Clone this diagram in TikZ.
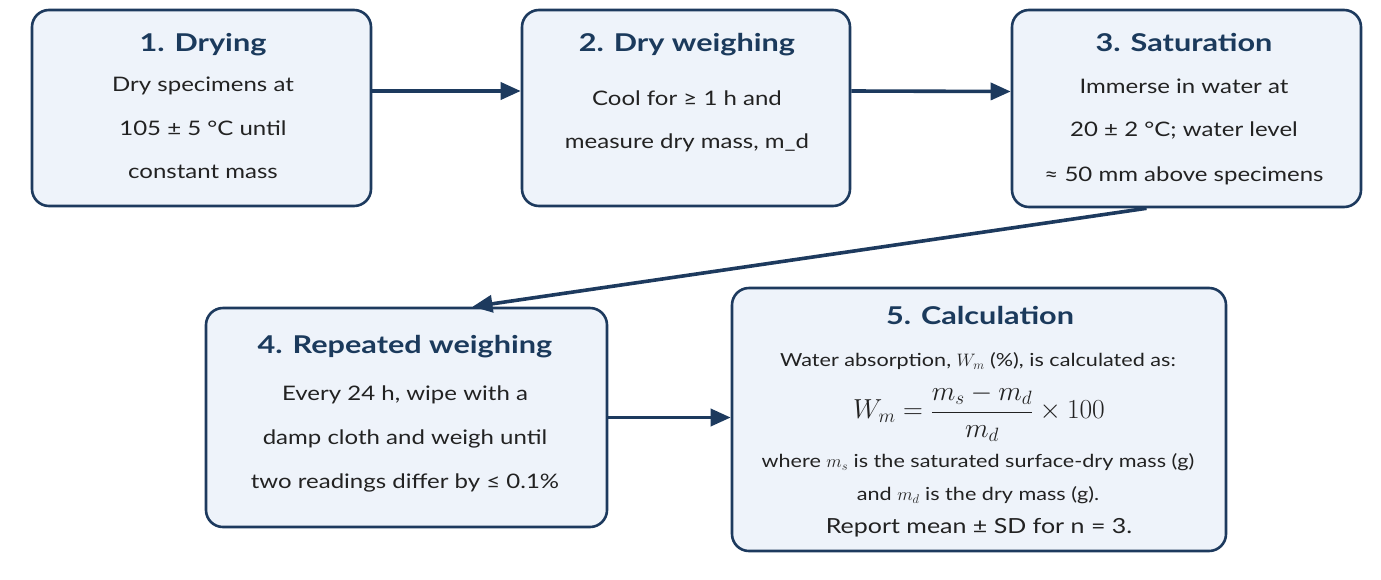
\documentclass[tikz,border=0pt]{standalone}
\usepackage{fix-cm}
\usepackage{fontspec}
\setmainfont{Lato}[FakeStretch=1.2]
\newfontfamily\ttlfont{Lato}[FakeStretch=1.25]
\DeclareMathSizes{18}{18}{12.6}{9}
\DeclareMathSizes{27.5}{27.5}{19.25}{13.75}
\usetikzlibrary{arrows.meta}
\definecolor{navy}{HTML}{1D3A5E}
\definecolor{boxfill}{HTML}{EEF3FA}
\definecolor{titlecol}{HTML}{1B3A5C}
\definecolor{textcol}{HTML}{222222}
\tikzset{
  box/.style={draw=navy, line width=2.6pt, fill=boxfill, rounded corners=17pt, inner sep=0pt},
  ttl/.style={font=\ttlfont\fontsize{24.5}{30}\selectfont\bfseries, text=titlecol, inner sep=0pt, text height=0.7em, text depth=0.2em},
  bod/.style={font=\fontsize{20}{24}\selectfont, text=textcol, inner sep=0pt, text height=0.7em, text depth=0.2em},
  sml/.style={font=\fontsize{18}{22}\selectfont, text=textcol, inner sep=0pt, anchor=base},
  arr/.style={draw=navy, line width=3.6pt, -{Triangle[length=20pt,width=17pt]}}
}
\begin{document}
\begin{tikzpicture}[x=1pt,y=-1pt]
\useasboundingbox[fill=white] (0,0) rectangle (1381,579);
% boxes
\node[box, minimum width=339pt, minimum height=196pt] (b1) at (201.5,108) {};
\node[box, minimum width=328pt, minimum height=196pt] (b2) at (686,108) {};
\node[box, minimum width=349pt, minimum height=197pt] (b3) at (1186.5,108.5) {};
\node[box, minimum width=401pt, minimum height=219pt] (b4) at (406.5,417.5) {};
\node[box, minimum width=494pt, minimum height=263pt] (b5) at (979,419.5) {};
% box 1
\node[ttl] (t1) at (203,49) {1. Drying};
\node[bod] (t1a) at (203,89) {Dry specimens at};
\node[bod] (t1b) at (203,132.5) {105 ± 5 °C until};
\node[bod] (t1c) at (203,175.5) {constant mass};
% box 2
\node[ttl] (t2) at (687,49) {2. Dry weighing};
\node[bod] (t2a) at (687,102.5) {Cool for ≥ 1 h and};
\node[bod] (t2b) at (687,145.5) {measure dry mass, m\_d};
% box 3
\node[ttl] (t3) at (1184,49) {3. Saturation};
\node[bod] (t3a) at (1184,90.5) {Immerse in water at};
\node[bod] (t3b) at (1184,133.5) {20 ± 2 °C; water level};
\node[bod] (t3c) at (1184,178.5) {≈ 50 mm above specimens};
% box 4
\node[ttl] (t4) at (405,351) {4. Repeated weighing};
\node[bod] (t4a) at (405,397.5) {Every 24 h, wipe with a};
\node[bod] (t4b) at (405,441.5) {damp cloth and weigh until};
\node[bod] (t4c) at (405,485.5) {two readings differ by ≤ 0.1\%};
% box 5
\node[ttl] (t5) at (980,322) {5. Calculation};
\node[sml] (t5a) at (978,366.5) {Water absorption, $W_m$ (\%), is calculated as:};
\node[inner sep=0pt, font=\fontsize{27.5}{32}\selectfont, text=textcol] (t5f) at (979,413) {$\displaystyle W_m = \frac{m_s - m_d}{m_d} \times 100$};
\node[sml] (t5b) at (978,467.5) {where $m_s$ is the saturated surface-dry mass (g)};
\node[sml] (t5c) at (978,500.5) {and $m_d$ is the dry mass (g).};
\node[bod, font=\fontsize{20.8}{24}\selectfont] (t5d) at (979,531) {Report mean ± SD for n = 3.};
% arrows
\draw[arr] ([yshift=17pt]b1.east) -- ([yshift=17pt]b2.west);
\draw[arr] ([yshift=17pt]b2.east) -- ([yshift=17pt]b3.west);
\draw[arr] ([xshift=-40pt]b3.south) -- ([xshift=66pt]b4.north);
\draw[arr] (b4.east) -- (b5.west |- b4.east);
\end{tikzpicture}
\end{document}
